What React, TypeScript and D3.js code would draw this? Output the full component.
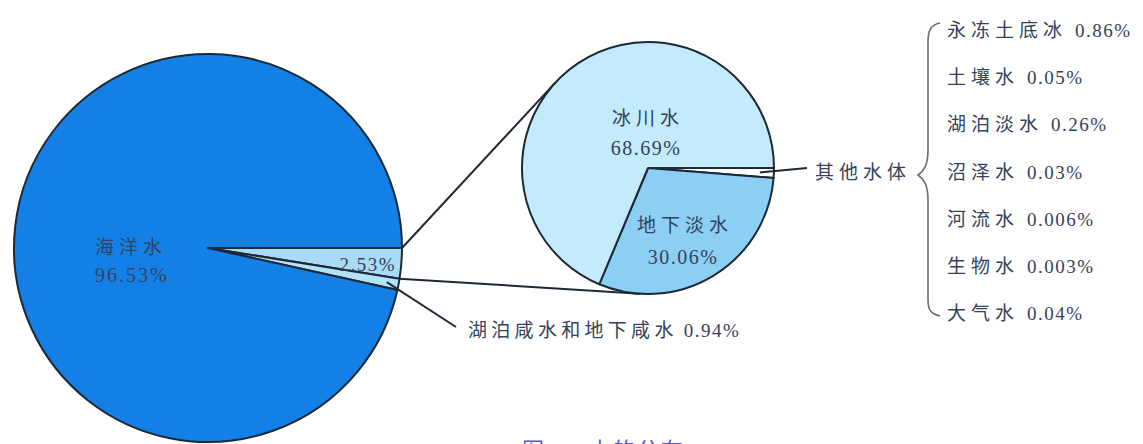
import React from "react";
import * as d3 from "d3";

// ---- data ----
const mainCategories = ["淡水", "湖泊咸水和地下咸水", "海洋水"];
const mainValues = [2.53, 0.94, 96.53];
const freshCategories = ["其他水体", "地下淡水", "冰川水"];
const freshValues = [1.25, 30.06, 68.69];
const otherCategories = ["永冻土底冰", "土壤水", "湖泊淡水", "沼泽水", "河流水", "生物水", "大气水"];
const otherValues = ["0.86%", "0.05%", "0.26%", "0.03%", "0.006%", "0.003%", "0.04%"];

const W = 1143;
const H = 444;
const CJK = "'Noto Sans CJK SC', sans-serif";
const SERIF = "'Liberation Serif', 'DejaVu Serif', serif";
const TXT = "#36425c";
const STROKE = "#1d2935";

const mainColors = ["#a9dbf6", "#b4e2f9", "#1480e6"];
const freshColors = ["#ffffff", "#8ccff4", "#c3ebfc"];

function tangentPoint(px: number, py: number, cx: number, cy: number, r: number, upper: boolean) {
  const dx = px - cx;
  const dy = py - cy;
  const d = Math.hypot(dx, dy);
  const th = Math.atan2(dy, dx);
  const a = Math.acos(r / d);
  const ang = upper ? th + a : th - a;
  return [cx + r * Math.cos(ang), cy + r * Math.sin(ang)];
}

function polar(cx: number, cy: number, r: number, a: number) {
  // d3 angle convention: 0 at 12 o'clock, clockwise
  return [cx + r * Math.sin(a), cy - r * Math.cos(a)];
}

export default function App() {
  const big = { cx: 208, cy: 248, r: 194 };
  const small = { cx: 648, cy: 168, r: 126 };

  const pie = d3
    .pie<number>()
    .sort(null)
    .value((d) => d)
    .startAngle(Math.PI / 2)
    .endAngle(Math.PI / 2 + 2 * Math.PI);

  const mainArcs = pie(mainValues);
  const freshArcs = pie(freshValues);
  const arcBig = d3.arc<d3.PieArcDatum<number>>().innerRadius(0).outerRadius(big.r);
  const arcSmall = d3.arc<d3.PieArcDatum<number>>().innerRadius(0).outerRadius(small.r);

  // connector lines from the fresh-water slice to the small pie
  const freshSlice = mainArcs[0];
  const p1 = polar(big.cx, big.cy, big.r, freshSlice.startAngle);
  const p2 = polar(big.cx, big.cy, big.r, freshSlice.endAngle);
  const t1 = tangentPoint(p1[0], p1[1], small.cx, small.cy, small.r, true);
  const t2 = tangentPoint(p2[0], p2[1], small.cx, small.cy, small.r, false);

  // leader for saline slice
  const saline = mainArcs[1];
  const salMid = (saline.startAngle + saline.endAngle) / 2;
  const l1 = polar(big.cx, big.cy, big.r - 12, salMid);

  // leader for other water slice
  const other = freshArcs[0];
  const othMid = (other.startAngle + other.endAngle) / 2;
  const l2 = polar(small.cx, small.cy, small.r - 14, othMid);

  const rowY = d3.scalePoint<string>().domain(otherCategories).range([37, 320]);

  return (
    <svg
      width={W}
      height={H}
      style={{ position: "absolute", left: 0, top: 0, background: "#ffffff" }}
    >
      {/* big pie */}
      <g transform={`translate(${big.cx},${big.cy})`}>
        {mainArcs.map((a, i) => (
          <path
            key={mainCategories[i]}
            d={arcBig(a) || ""}
            fill={mainColors[i]}
            stroke={STROKE}
            strokeWidth={2}
            strokeLinejoin="round"
          />
        ))}
      </g>

      {/* connectors */}
      <line x1={p1[0]} y1={p1[1]} x2={t1[0]} y2={t1[1]} stroke={STROKE} strokeWidth={2} />
      <line x1={p2[0]} y1={p2[1]} x2={t2[0]} y2={t2[1]} stroke={STROKE} strokeWidth={2} />

      {/* small pie */}
      <g transform={`translate(${small.cx},${small.cy})`}>
        {freshArcs.map((a, i) => (
          <path
            key={freshCategories[i]}
            d={arcSmall(a) || ""}
            fill={freshColors[i]}
            stroke={STROKE}
            strokeWidth={2}
            strokeLinejoin="round"
          />
        ))}
      </g>

      {/* big pie labels */}
      <text x={95} y={254} fill={TXT} fontFamily={CJK} fontSize={19} letterSpacing={5}>
        {mainCategories[2]}
      </text>
      <text x={95} y={282} fill={TXT} fontFamily={SERIF} fontSize={20} letterSpacing={2}>
        {mainValues[2].toFixed(2)}%
      </text>
      <text x={396} y={271} textAnchor="end" fill={TXT} fontFamily={SERIF} fontSize={19} letterSpacing={1.5}>
        {mainValues[0].toFixed(2)}%
      </text>

      {/* saline leader + label */}
      <line x1={l1[0]} y1={l1[1]} x2={456} y2={327} stroke={STROKE} strokeWidth={2} />
      <text x={468} y={337} fill={TXT}>
        <tspan fontFamily={CJK} fontSize={19} letterSpacing={4.3}>
          {mainCategories[1]}
        </tspan>
        <tspan dx={6} fontFamily={SERIF} fontSize={19} letterSpacing={1.5}>
          {mainValues[1].toFixed(2)}%
        </tspan>
      </text>

      {/* small pie labels */}
      <text x={648} y={125} textAnchor="middle" fill={TXT} fontFamily={CJK} fontSize={19} letterSpacing={5}>
        {freshCategories[2]}
      </text>
      <text x={646} y={155} textAnchor="middle" fill={TXT} fontFamily={SERIF} fontSize={20} letterSpacing={1.5}>
        {freshValues[2].toFixed(2)}%
      </text>
      <text x={685} y={232} textAnchor="middle" fill={TXT} fontFamily={CJK} fontSize={19} letterSpacing={5}>
        {freshCategories[1]}
      </text>
      <text x={683} y={264} textAnchor="middle" fill={TXT} fontFamily={SERIF} fontSize={20} letterSpacing={1.5}>
        {freshValues[1].toFixed(2)}%
      </text>

      {/* other water leader + label */}
      <line x1={l2[0]} y1={l2[1]} x2={807} y2={168} stroke={STROKE} strokeWidth={2} />
      <text x={815} y={179} fill={TXT} fontFamily={CJK} fontSize={19} letterSpacing={5}>
        {freshCategories[0]}
      </text>

      {/* brace */}
      <path
        d="M940,23 C931,25 928,30 928,42 L928,150 C928,165 924,171 918,175 C924,179 928,185 928,200 L928,300 C928,310 931,314 940,316"
        fill="none"
        stroke="#6d6d6d"
        strokeWidth={1.6}
      />

      {/* list */}
      {otherCategories.map((c, i) => (
        <text key={c} x={947} y={rowY(c)} fill={TXT}>
          <tspan fontFamily={CJK} fontSize={19} letterSpacing={5}>
            {c}
          </tspan>
          <tspan dx={8} fontFamily={SERIF} fontSize={19} letterSpacing={1.5}>
            {otherValues[i]}
          </tspan>
        </text>
      ))}

      {/* caption (cut off at bottom) */}
      <text x={522} y={458} fill="#5a55c2" fontSize={22} letterSpacing={2}>
        <tspan fontFamily={CJK}>图</tspan>
        <tspan fontFamily={SERIF}>1-1 </tspan>
        <tspan fontFamily={CJK}>水的分布</tspan>
      </text>
    </svg>
  );
}
